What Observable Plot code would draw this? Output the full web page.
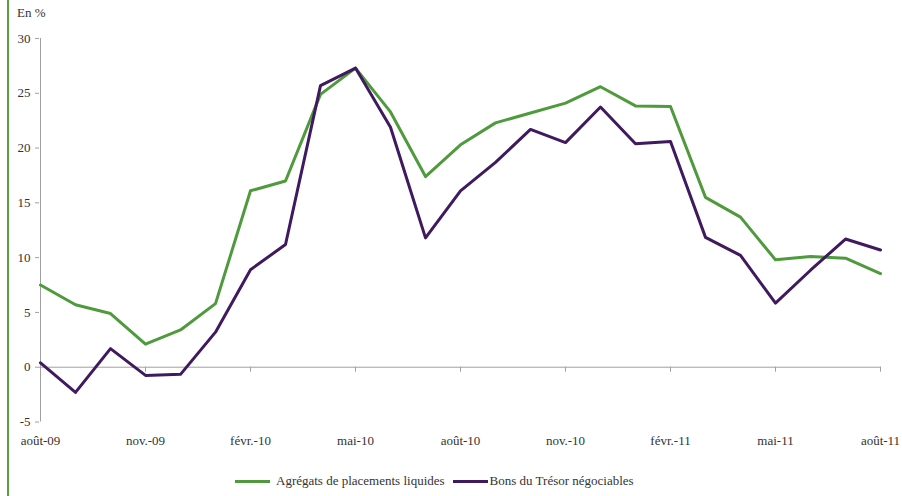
<!DOCTYPE html>
<html><head><meta charset="utf-8">
<script src="https://cdn.jsdelivr.net/npm/d3@7"></script>
<script src="https://cdn.jsdelivr.net/npm/@observablehq/plot@0.6"></script>
<style>
body{margin:0;background:#fff;font-family:Liberation Serif, serif;}
#wrap{position:relative;width:902px;height:496px;overflow:hidden;font-family:Liberation Serif, serif;}
#border{position:absolute;left:7px;top:0;width:2px;height:496px;background:#5a9e3e;}
#unit{position:absolute;left:17px;top:5px;font-size:13px;color:#333;}
#chart{position:absolute;left:0;top:0;}
#chart svg, #chart text{font-family:Liberation Serif, serif !important;}
#legend{position:absolute;left:235px;top:472px;display:flex;align-items:center;font-size:13px;color:#333;height:18px;white-space:nowrap;}
#legend .sw{display:inline-block;width:35px;height:3px;}
</style></head><body>
<div id="wrap"><div id="border"></div><div id="chart"></div><div id="unit">En %</div><div id="legend"></div></div>
<script>
const months = ["août-09","sept.-09","oct.-09","nov.-09","déc.-09","janv.-10","févr.-10","mars-10","avr.-10","mai-10","juin-10","juil.-10","août-10","sept.-10","oct.-10","nov.-10","déc.-10","janv.-11","févr.-11","mars-11","avr.-11","mai-11","juin-11","juil.-11","août-11"];
const agregats = [7.5, 5.7, 4.9, 2.1, 3.4, 5.8, 16.1, 17.0, 24.9, 27.3, 23.3, 17.4, 20.3, 22.3, 23.2, 24.1, 25.6, 23.85, 23.8, 15.5, 13.7, 9.8, 10.1, 9.95, 8.55];
const bons = [0.4, -2.3, 1.7, -0.75, -0.65, 3.2, 8.9, 11.2, 25.7, 27.3, 21.9, 11.8, 16.1, 18.7, 21.7, 20.5, 23.75, 20.4, 20.6, 11.85, 10.2, 5.85, 8.85, 11.7, 10.7];
const tickLabels = ["août-09","nov.-09","févr.-10","mai-10","août-10","nov.-10","févr.-11","mai-11","août-11"];
const yTicks = [-5, 0, 5, 10, 15, 20, 25, 30];
const seriesNames = ["Agrégats de placements liquides", "Bons du Trésor négociables"];
const colors = ["#4e9a3c", "#3f1a5e"];

const rows = [];
months.forEach((m, i) => {
  rows.push({month: m, value: agregats[i], series: seriesNames[0]});
});
months.forEach((m, i) => {
  rows.push({month: m, value: bons[i], series: seriesNames[1]});
});

const font = "Liberation Serif, serif";
const plot = Plot.plot({
  width: 902, height: 470,
  marginLeft: 39, marginRight: 21.3, marginTop: 38, marginBottom: 48.5,
  style: {fontFamily: font, fontSize: "13px", color: "#333", background: "transparent"},
  x: {type: "point", domain: months, padding: 0},
  y: {domain: [-5, 30]},
  color: {domain: seriesNames, range: colors},
  marks: [
    Plot.ruleY([0], {stroke: "#a0a0a0", strokeWidth: 1}),
    Plot.ruleX([months[0]], {stroke: "#a0a0a0", strokeWidth: 1}),
    Plot.ruleX(tickLabels, {x: d => d, y1: 0, y2: 0, insetTop: 5, stroke: "#a0a0a0"}),
    Plot.axisY({ticks: yTicks, tickSize: 4, tickPadding: 5, stroke: "#a0a0a0", label: null, tickFormat: d => String(d), fill: "#333"}),
    Plot.axisX({ticks: tickLabels, tickSize: 0, tickPadding: 14, label: null, fill: "#333"}),
    Plot.line(rows, {x: "month", y: "value", z: "series", stroke: "series", strokeWidth: 3})
  ]
});
document.getElementById("chart").appendChild(plot);

const legend = document.getElementById("legend");
seriesNames.forEach((name, i) => {
  const sw = document.createElement("span");
  sw.className = "sw";
  sw.style.background = colors[i];
  sw.style.marginLeft = i === 0 ? "0px" : "8px";
  const t = document.createElement("span");
  t.textContent = name;
  t.style.marginLeft = i === 0 ? "6px" : "2px";
  legend.appendChild(sw);
  legend.appendChild(t);
});
</script>
</body></html>
